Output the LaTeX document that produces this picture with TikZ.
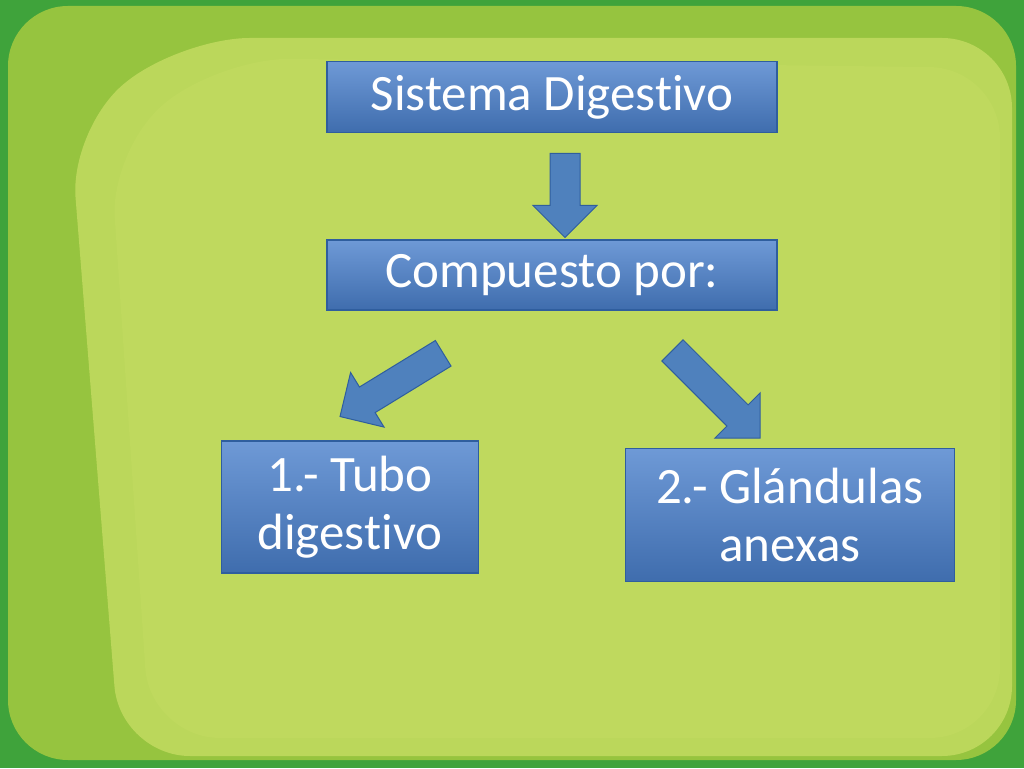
\documentclass[tikz,border=0pt]{standalone}
\usepackage{fontspec}
\setmainfont[Ligatures={NoCommon,NoRequired,NoContextual}]{Carlito}
\usetikzlibrary{shapes.arrows}
\definecolor{outerg}{HTML}{3FA33B}
\definecolor{midg}{HTML}{96C43F}
\definecolor{lightg}{HTML}{BFD95E}
\definecolor{boxb}{HTML}{4A80CC}
\definecolor{boxd}{HTML}{2F5E9E}
\definecolor{arrb}{HTML}{4F81BD}
\tikzset{
  box/.style={draw=boxd, line width=1.2pt, top color=boxb!80!white, bottom color=boxb!85!black, text=white, font=\fontsize{51}{58}\selectfont, align=center, inner sep=0pt},
  blockarrow/.style={single arrow, draw=boxd, fill=arrb, line width=1pt, inner sep=0pt, single arrow head extend=17pt, minimum width=64pt}
}
\begin{document}
\begin{tikzpicture}[x=1pt,y=1pt]
\useasboundingbox (0,0) rectangle (1024,768);
\fill[outerg] (0,0) rectangle (1024,768);
\fill[midg, rounded corners=60pt] (8,8) rectangle (1016,762);
\fill[lightg!90!midg, rounded corners=70pt] (120,12) -- (1012,12) -- (1012,730) -- (180,730) -- (70,640) -- cycle;
\fill[lightg, rounded corners=70pt] (150,30) -- (1000,30) -- (1000,700) -- (220,710) -- (110,620) -- cycle;

\node[box, minimum width=450pt, minimum height=71pt] (sd) at (552,671) {Sistema Digestivo};
\node[box, minimum width=450pt, minimum height=70pt] (cp) at (552,493) {Compuesto por:};
\node[box, minimum width=257pt, minimum height=132pt] (tubo) at (350,261) {1.- Tubo\\digestivo};
\node[box, minimum width=329pt, minimum height=133pt] (gl) at (790,253) {2.- Glándulas\\anexas};

\node[blockarrow, minimum height=84pt, rotate=-90] (a1) at (565,580) {\rule{0pt}{29pt}};
\node[blockarrow, minimum height=121pt, rotate=211.5] (a2) at (398,387) {\rule{0pt}{29pt}};
\node[blockarrow, minimum height=124pt, rotate=-45] (a3) at (711,379) {\rule{0pt}{29pt}};
\end{tikzpicture}
\end{document}
